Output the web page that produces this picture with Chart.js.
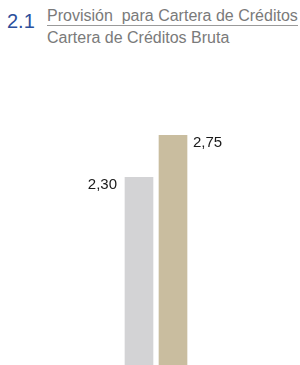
<!DOCTYPE html>
<html>
<head>
<meta charset="utf-8">
<script src="https://cdn.jsdelivr.net/npm/chart.js@4/dist/chart.umd.min.js"></script>
<style>
  html, body { margin: 0; padding: 0; background: #fff; overflow: hidden; }
  body { width: 300px; height: 365px; position: relative; font-family: "Liberation Sans", Arial, sans-serif; }
  #num { position: absolute; left: 7px; top: 10px; font-size: 20px; line-height: 22px; color: #2c4f9c; }
  #frac { position: absolute; left: 47px; top: 7px; width: 251px; color: #7a7a7a; font-size: 16px; line-height: 18px; }
  #frac .top { border-bottom: 1px solid #9a9a9a; white-space: pre; }
  #frac .bot { padding-top: 3px; }
  #wrap { position: absolute; left: 0; top: 0; width: 300px; height: 392px; }
</style>
</head>
<body>
<div id="num">2.1</div>
<div id="frac">
  <div class="top">Provisión  para Cartera de Créditos</div>
  <div class="bot">Cartera de Créditos Bruta</div>
</div>
<div id="wrap"><canvas id="chart"></canvas></div>
<script>
// chart data
const categories = ['A', 'B'];
const values = [2.30, 2.75];
const valueLabels = ['2,30', '2,75'];
const barColors = ['#d3d3d5', '#c9bd9f'];

// draw value labels next to the bar tops
const barLabels = {
    id: 'barLabels',
    afterDatasetsDraw(chart) {
        const ctx = chart.ctx;
        const meta = chart.getDatasetMeta(0);
        ctx.save();
        ctx.font = '15px "Liberation Sans", Arial, sans-serif';
        ctx.fillStyle = '#1a1a1a';
        ctx.textBaseline = 'top';
        meta.data.forEach((bar, i) => {
            const half = bar.width / 2;
            if (i === 0) {
                ctx.textAlign = 'right';
                ctx.fillText(valueLabels[i], bar.x - half - 8, bar.y);
            } else {
                ctx.textAlign = 'left';
                ctx.fillText(valueLabels[i], bar.x + half + 6, bar.y);
            }
        });
        ctx.restore();
    }
};

new Chart(document.getElementById('chart'), {
    type: 'bar',
    data: {
        labels: categories,
        datasets: [{
            data: values,
            backgroundColor: barColors,
            barThickness: 28,
        }],
    },
    options: {
        responsive: true,
        maintainAspectRatio: false,
        animation: false,
        layout: { padding: { left: 122, right: 110, top: 112, bottom: 0 } },
        plugins: { legend: { display: false }, tooltip: { enabled: false } },
        scales: {
            x: { display: false },
            y: { display: false, min: 0, max: 3 }
        }
    },
    plugins: [barLabels]
});
</script>
</body>
</html>
